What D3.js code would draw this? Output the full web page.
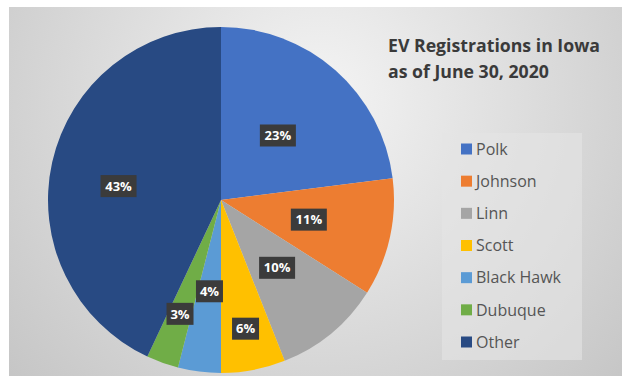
<!DOCTYPE html>
<html>
<head>
<meta charset="utf-8">
<script src="https://cdn.jsdelivr.net/npm/d3@7"></script>
<style>
  body { margin: 0; background: #fff; }
  svg { display: block; }
</style>
</head>
<body>
<div id="chart"></div>
<script>
// data
let counties = ["Polk", "Johnson", "Linn", "Scott", "Black Hawk", "Dubuque", "Other"];
let shares = [23, 11, 10, 6, 4, 3, 43];
let sliceColors = ["#4472c4", "#ed7d31", "#a5a5a5", "#ffc000", "#5b9bd5", "#70ad47", "#284a83"];
let titleLines = ["EV Registrations in Iowa", "as of June 30, 2020"];

// label distance from centre (Excel best-fit placement) and small nudges
let labelRadius = [86, 90, 88, 131, 92, 121, 105];
let labelNudgeY = [0, 0, 0, 0, 0, 0, 9];

let svgWidth = 622,
  svgHeight = 376;

let svg = d3
  .select("#chart")
  .append("svg")
  .attr("width", svgWidth)
  .attr("height", svgHeight);

// gray gradient backdrop
let defs = svg.append("defs");
let grad = defs
  .append("radialGradient")
  .attr("id", "bg")
  .attr("gradientUnits", "userSpaceOnUse")
  .attr("cx", 320)
  .attr("cy", 100)
  .attr("r", 430);
grad.append("stop").attr("offset", "0%").attr("stop-color", "#f4f4f4");
grad.append("stop").attr("offset", "100%").attr("stop-color", "#c4c4c4");

svg
  .append("rect")
  .attr("x", 9)
  .attr("y", 7)
  .attr("width", svgWidth - 9)
  .attr("height", svgHeight - 7)
  .attr("fill", "url(#bg)");

// pie
let cx = 221,
  cy = 200,
  radius = 173;

let pie = d3.pie().sort(null).value((d) => d.value);
let arcs = pie(counties.map((c, i) => ({ name: c, value: shares[i], i: i })));
let arc = d3.arc().innerRadius(0).outerRadius(radius);

let pieGroup = svg.append("g").attr("transform", `translate(${cx}, ${cy})`);

pieGroup
  .selectAll("path")
  .data(arcs)
  .enter()
  .append("path")
  .attr("d", arc)
  .attr("fill", (d) => sliceColors[d.data.i]);

// data labels in dark boxes
let labels = pieGroup
  .selectAll(".lbl")
  .data(arcs)
  .enter()
  .append("g")
  .attr("class", "lbl")
  .attr("transform", (d) => {
    let a = (d.startAngle + d.endAngle) / 2;
    let r = labelRadius[d.data.i];
    return `translate(${r * Math.sin(a)}, ${-r * Math.cos(a) + labelNudgeY[d.data.i]})`;
  });

labels
  .append("rect")
  .attr("x", (d) => (d.data.value >= 10 ? -18 : -13.5))
  .attr("y", -11)
  .attr("width", (d) => (d.data.value >= 10 ? 36 : 27))
  .attr("height", 22)
  .attr("fill", "#3b3b3b");

labels
  .append("text")
  .attr("text-anchor", "middle")
  .attr("dy", "0.36em")
  .attr("fill", "#ffffff")
  .attr("font-family", "Open Sans, sans-serif")
  .attr("font-weight", "bold")
  .attr("font-size", "13px")
  .text((d) => `${d.data.value}%`);

// title
svg
  .append("text")
  .attr("x", 388)
  .attr("y", 52)
  .attr("fill", "#3a3a3a")
  .attr("font-family", "Open Sans, sans-serif")
  .attr("font-weight", "bold")
  .attr("font-size", "17.7px")
  .selectAll("tspan")
  .data(titleLines)
  .enter()
  .append("tspan")
  .attr("x", 388)
  .attr("dy", (d, i) => (i === 0 ? 0 : 26))
  .text((d) => d);

// legend
svg
  .append("rect")
  .attr("x", 442)
  .attr("y", 133)
  .attr("width", 140)
  .attr("height", 227)
  .attr("fill", "#e4e4e4")
  .attr("opacity", 0.6);

let legendY = d3
  .scalePoint()
  .domain(counties)
  .range([149, 342]);

let legendItems = svg
  .selectAll(".legend-item")
  .data(counties)
  .enter()
  .append("g")
  .attr("class", "legend-item")
  .attr("transform", (d) => `translate(461, ${legendY(d)})`);

legendItems
  .append("rect")
  .attr("x", 0)
  .attr("y", -5.5)
  .attr("width", 11)
  .attr("height", 11)
  .attr("fill", (d, i) => sliceColors[i]);

legendItems
  .append("text")
  .attr("x", 15)
  .attr("dy", "0.36em")
  .attr("fill", "#555555")
  .attr("font-family", "Open Sans, sans-serif")
  .attr("font-size", "16px")
  .text((d) => d);
</script>
</body>
</html>
